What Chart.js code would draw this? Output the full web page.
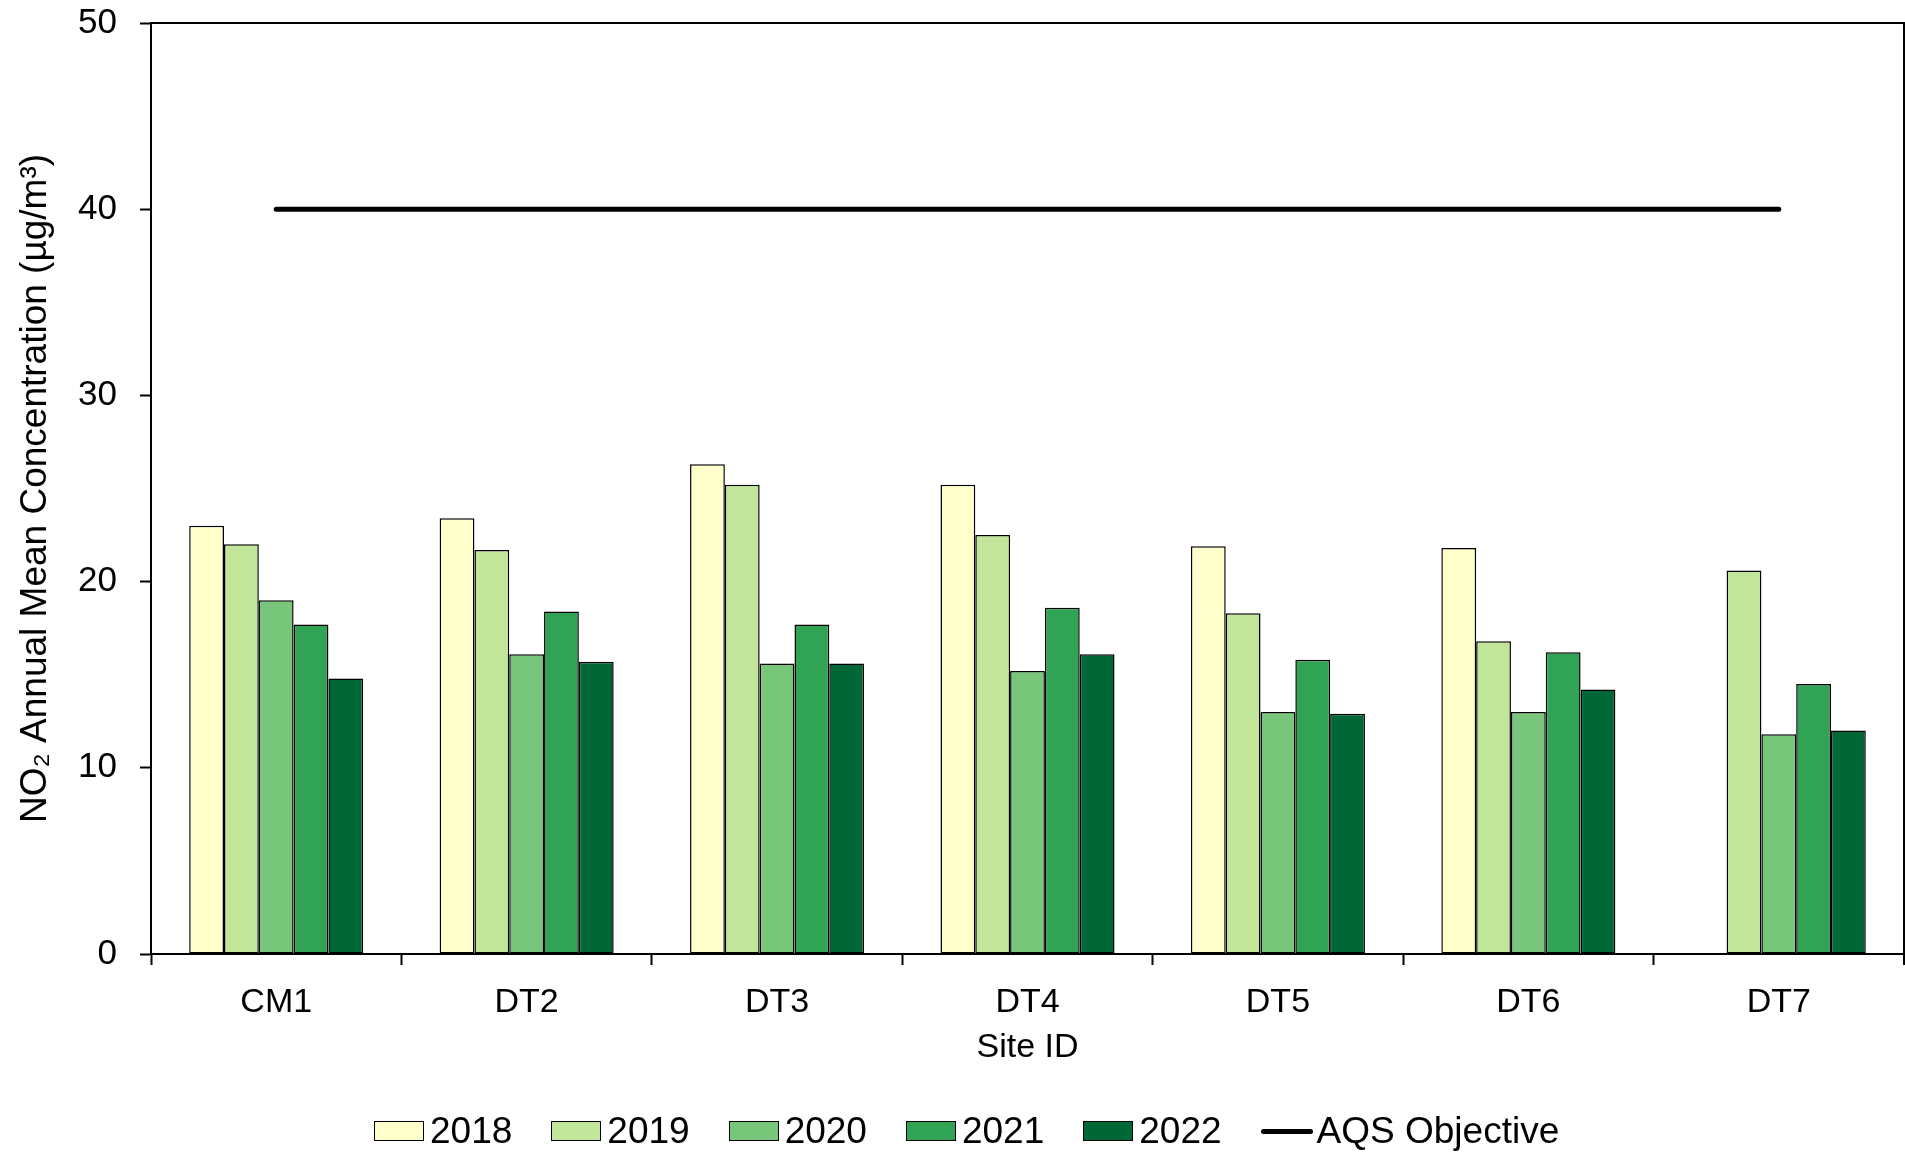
<!DOCTYPE html>
<html>
<head>
<meta charset="utf-8">
<script src="https://cdn.jsdelivr.net/npm/chart.js@4.4.1/dist/chart.umd.min.js"></script>
<style>
  html, body { margin: 0; padding: 0; background: #fff; }
  #wrap { position: relative; width: 1905px; height: 1154px; }
  #legend { position: absolute; left: 374px; top: 1109px; height: 44px; display: flex; align-items: center;
    font-family: "Liberation Sans", Arial, sans-serif; font-size: 37px; color: #000; white-space: nowrap; }
  .item { display: flex; align-items: center; margin-right: 39px; }
  .box { width: 48px; height: 18px; border: 1.5px solid #000; margin-right: 6px; }
  .line { width: 52px; height: 5px; background: #000; border-radius: 3px; margin-right: 4px; }
</style>
</head>
<body>
<div id="wrap">
  <canvas id="c" width="1905" height="1154"></canvas>
  <div id="legend"></div>
</div>
<script>
const categories = ["CM1", "DT2", "DT3", "DT4", "DT5", "DT6", "DT7"];
const seriesNames = ["2018", "2019", "2020", "2021", "2022"];
const values2018 = [23.0, 23.4, 26.3, 25.2, 21.9, 21.8, null];
const values2019 = [22.0, 21.7, 25.2, 22.5, 18.3, 16.8, 20.6];
const values2020 = [19.0, 16.1, 15.6, 15.2, 13.0, 13.0, 11.8];
const values2021 = [17.7, 18.4, 17.7, 18.6, 15.8, 16.2, 14.5];
const values2022 = [14.8, 15.7, 15.6, 16.1, 12.9, 14.2, 12.0];
const objectiveName = "AQS Objective";
const objectiveValues = [40, 40, 40, 40, 40, 40, 40];
const yTicks = [0, 10, 20, 30, 40, 50];
const xTitle = "Site ID";
const yTitle = "NO₂ Annual Mean Concentration (µg/m³)";

const colors = ["#FFFFCC", "#C2E699", "#78C679", "#31A354", "#006837"];
const seriesValues = [values2018, values2019, values2020, values2021, values2022];

const FONT = '"Liberation Sans", Arial, sans-serif';

const datasets = seriesValues.map((vals, i) => ({
  type: 'bar',
  label: seriesNames[i],
  data: vals,
  backgroundColor: colors[i],
  borderColor: '#000',
  borderWidth: 1.5,
  borderSkipped: false,
  barPercentage: 1.0,
  categoryPercentage: 0.695,
  order: 2
}));
datasets.push({
  type: 'line',
  label: objectiveName,
  data: objectiveValues,
  borderColor: '#000',
  borderWidth: 5,
  borderCapStyle: 'round',
  pointRadius: 0,
  fill: false,
  order: 1
});

const frame = {
  id: 'frame',
  afterDraw(chart) {
    const {ctx, chartArea: a} = chart;
    ctx.save();
    ctx.strokeStyle = '#000';
    ctx.lineWidth = 2;
    ctx.beginPath();
    ctx.moveTo(a.left, a.top);
    ctx.lineTo(a.right, a.top);
    ctx.lineTo(a.right, a.bottom + 11);
    ctx.stroke();
    ctx.restore();
  }
};

const chart = new Chart(document.getElementById('c'), {
  data: { labels: categories, datasets },
  options: {
    responsive: false,
    animation: false,
    layout: { padding: { left: 0, right: 1, top: 23, bottom: 82 } },
    plugins: { legend: { display: false }, tooltip: { enabled: false } },
    scales: {
      x: {
        offset: true,
        grid: { display: true, drawOnChartArea: false, drawTicks: true, tickLength: 11, tickWidth: 2, tickColor: '#000', offset: true },
        border: { display: true, color: '#000', width: 2 },
        ticks: { color: '#000', font: { family: FONT, size: 34 }, padding: 17, maxRotation: 0 },
        title: { display: true, text: xTitle, color: '#000', font: { family: FONT, size: 34, lineHeight: 1.2 }, padding: { top: 0, bottom: 4 } },
        afterFit(s) { s.height = 118; s.paddingLeft = 0; s.paddingRight = 0; }
      },
      y: {
        min: 0, max: 50,
        afterBuildTicks(s) { s.ticks = yTicks.map(v => ({ value: v })); },
        grid: { display: true, drawOnChartArea: false, drawTicks: true, tickLength: 11, tickWidth: 2, tickColor: '#000' },
        border: { display: true, color: '#000', width: 2 },
        ticks: { color: '#000', font: { family: FONT, size: 35, lineHeight: 1.2 }, padding: 23 },
        title: { display: true, text: yTitle, color: '#000', font: { family: FONT, size: 37, lineHeight: 1.2 }, padding: { top: 14, bottom: 0 } },
        afterFit(s) { s.width = 151; s.paddingTop = 0; s.paddingBottom = 0; }
      }
    }
  },
  plugins: [frame]
});

// HTML legend built from the chart's datasets
const legend = document.getElementById('legend');
chart.data.datasets.forEach(ds => {
  const item = document.createElement('div');
  item.className = 'item';
  const sw = document.createElement('div');
  if (ds.type === 'line') {
    sw.className = 'line';
  } else {
    sw.className = 'box';
    sw.style.background = ds.backgroundColor;
  }
  const t = document.createElement('span');
  t.textContent = ds.label;
  item.appendChild(sw);
  item.appendChild(t);
  legend.appendChild(item);
});
</script>
</body>
</html>
